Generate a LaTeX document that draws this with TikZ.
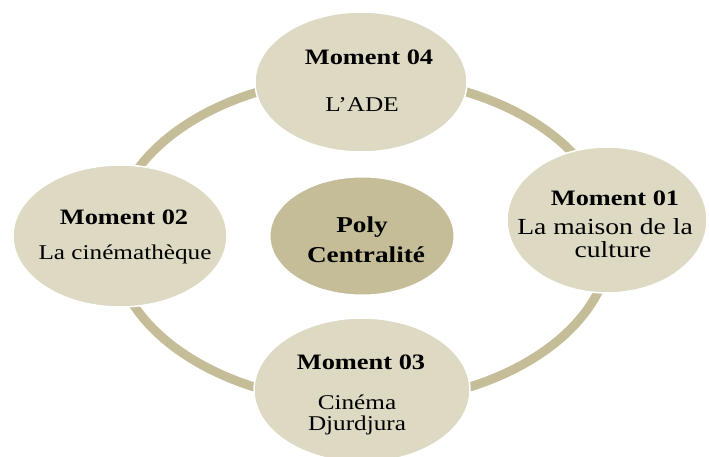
\documentclass[tikz,border=0pt]{standalone}
\usepackage{fontspec}
\setmainfont{Liberation Serif}[FakeStretch=1.2]
\usetikzlibrary{shapes.geometric}
\definecolor{tanlight}{HTML}{DDD9C3}
\definecolor{tandark}{HTML}{C4BD97}

\begin{document}
\begin{tikzpicture}[x=1pt,y=-1pt,
  moment/.style={ellipse,fill=tanlight,draw=white,line width=1.5pt,inner sep=0pt},
  hub/.style={ellipse,fill=tandark,draw=white,line width=1pt,inner sep=0pt},
  title/.style={font=\fontsize{22}{24}\selectfont\bfseries,anchor=base,inner sep=0pt},
  body/.style={font=\fontsize{21}{24}\selectfont,anchor=base,inner sep=0pt}]
  \useasboundingbox (0,0) rectangle (709,457);
  \clip (0,0) rectangle (709,457);
  % anneau
  \draw[tandark,line width=9pt] (362,240) ellipse [x radius=249, y radius=163];
  % moments
  \node[moment,minimum width=212pt,minimum height=140pt] (m4) at (361,82) {};
  \node[moment,minimum width=214pt,minimum height=142pt] (m2) at (120,236) {};
  \node[moment,minimum width=200pt,minimum height=146pt] (m1) at (607,220) {};
  \node[moment,minimum width=216pt,minimum height=144pt] (m3) at (362,390) {};
  \node[hub,minimum width=184pt,minimum height=118pt] (poly) at (362,236) {};
  % textes
  \node[title] (t4) at (369,65) {Moment 04};
  \node[body] (l4) at (362,112) {L’ADE};
  \node[title] (t2) at (124,225) {Moment 02};
  \node[body] (l2) at (125,259) {La cinémathèque};
  \node[title] (t1) at (615,206) {Moment 01};
  \node[body,font=\fontsize{23}{26}\selectfont] (l1a) at (605,234) {La maison de la};
  \node[body,font=\fontsize{23}{26}\selectfont] (l1b) at (613,257) {culture};
  \node[title] (t3) at (361,369) {Moment 03};
  \node[body] (l3a) at (357,409) {Cinéma};
  \node[body] (l3b) at (357,430) {Djurdjura};
  \node[title,font=\fontsize{22.7}{25}\selectfont\bfseries] (p1) at (362,232) {Poly};
  \node[title,font=\fontsize{22.7}{25}\selectfont\bfseries] (p2) at (366,262) {Centralité};
\end{tikzpicture}
\end{document}
